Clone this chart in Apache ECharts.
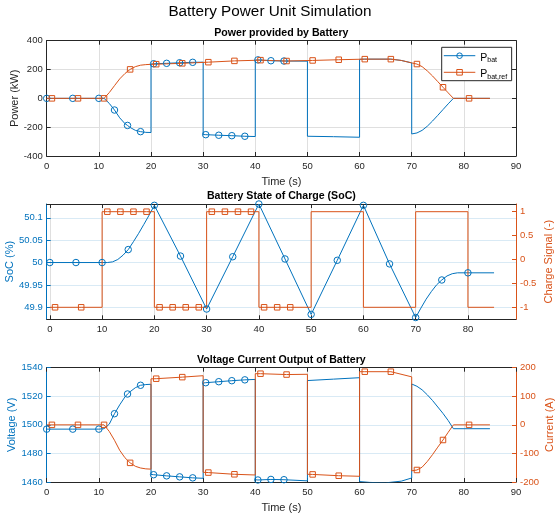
<!DOCTYPE html>
<html>
<head>
<meta charset="utf-8">
<script src="https://cdn.jsdelivr.net/npm/echarts@6/dist/echarts.min.js"></script>
<style>
  html, body { margin: 0; padding: 0; background: #fff; }
  #chart { width: 556px; height: 519px; }
</style>
</head>
<body>
<div id="chart"></div>
<script>
// ---- Power provided by battery (kW) ----
const pbatT = [0, 5, 10, 11, 12, 13, 14, 15, 15.5, 16, 17, 18, 19, 20, 20, 20.5, 23, 25.5, 28, 30, 30, 30.5, 33, 35.5, 38, 40, 40, 40.5, 43, 45.5, 50, 50, 55, 60, 60, 61, 66, 68, 70, 70, 71, 72, 73, 74, 75, 76, 77, 78, 81, 85];
const pbatV = [0, 0, 0, 0, -35, -81, -135, -175, -188, -202, -222, -231, -236, -237, 238, 240, 243, 247, 250, 251, -251, -252, -256, -259, -263, -265, 266, 267, 261, 259, 258, -263, -266, -270, 271, 272, 272, 263, 246, -247, -240, -222, -193, -157, -118, -78, -38, 0, 0, 0];
const pbatMarks = [0, 5, 10, 13, 15.5, 18, 20.5, 23, 25.5, 28, 30.5, 33, 35.5, 38, 40.5, 43, 45.5];

const prefT = [0, 1, 6, 11, 12, 13, 14, 15, 16, 17, 18, 19, 20, 21, 26, 31, 36, 41, 46, 51, 56, 61, 66, 68, 70, 71, 72, 73, 74, 75, 76, 77, 78, 81, 85];
const prefV = [0, 0, 0, 0, 40, 88, 135, 172, 201, 220, 230, 234, 236, 237, 243, 251, 260, 265, 259, 263, 268, 272, 272, 263, 246, 238, 220, 190, 155, 116, 77, 38, 0, 0, 0];
const prefMarks = [1, 6, 11, 16, 21, 26, 31, 36, 41, 46, 51, 56, 61, 66, 71, 76, 81];

// ---- State of charge (%) and charge signal (-) ----
const socT = [0, 5, 10, 11, 12, 13, 14, 15, 16, 17, 18, 19, 20, 25, 30, 35, 40, 45, 50, 55, 60, 65, 70, 71, 72, 73, 74, 75, 76, 77, 78, 80, 85];
const socV = [50, 50, 50, 50, 50.0015, 50.0068, 50.0164, 50.029, 50.0467, 50.0654, 50.0855, 50.1061, 50.128, 50.0145, 49.896, 50.013, 50.131, 50.008, 49.884, 50.005, 50.128, 49.997, 49.877, 49.898, 49.918, 49.935, 49.950, 49.961, 49.970, 49.975, 49.977, 49.977, 49.977];
const socMarks = [0, 5, 10, 15, 20, 25, 30, 35, 40, 45, 50, 55, 60, 65, 70, 75, 80];

const csT = [0, 1, 6, 10, 10, 11, 13.5, 16, 18.5, 20, 20, 21, 23.5, 26, 28.5, 30, 30, 31, 33.5, 36, 38.5, 40, 40, 41, 43.5, 46, 50, 50, 60, 60, 70, 70, 80, 80, 85];
const csV = [-1, -1, -1, -1, 1, 1, 1, 1, 1, 1, -1, -1, -1, -1, -1, -1, 1, 1, 1, 1, 1, 1, -1, -1, -1, -1, -1, 1, 1, -1, -1, 1, 1, -1, -1];
const csMarks = [1, 6, 11, 13.5, 16, 18.5, 21, 23.5, 26, 28.5, 31, 33.5, 36, 38.5, 41, 43.5, 46];

// ---- Voltage (V) and current (A) ----
const voltT = [0, 5, 10, 11, 12, 13, 14, 15, 15.5, 16, 17, 18, 19, 20, 20, 20.5, 23, 25.5, 28, 30, 30, 30.5, 33, 35.5, 38, 40, 40, 40.5, 43, 45.5, 50, 50, 55, 60, 60, 62, 65, 68, 70, 70, 71, 72, 73, 74, 75, 76, 77, 78, 81, 85];
const voltV = [1497, 1497, 1497, 1497.3, 1500.5, 1507.8, 1514, 1519.5, 1521.6, 1523.2, 1526, 1527.7, 1528.2, 1528.4, 1465.3, 1465.1, 1464.3, 1463.6, 1462.9, 1462.6, 1529.3, 1529.5, 1530.2, 1530.9, 1531.5, 1531.8, 1461.6, 1461.4, 1461.8, 1461.6, 1460.8, 1531, 1532, 1533, 1460.3, 1459.7, 1459.4, 1460.6, 1462.8, 1528.6, 1527, 1524.5, 1521, 1517, 1512.5, 1508, 1503, 1497.3, 1497.3, 1497.3];
const voltMarks = [0, 5, 10, 13, 15.5, 18, 20.5, 23, 25.5, 28, 30.5, 33, 35.5, 38, 40.5, 43, 45.5];

const currT = [0, 1, 6, 11, 12, 13, 14, 15, 16, 17, 18, 19, 20, 20, 21, 26, 30, 30, 31, 36, 40, 40, 41, 46, 50, 50, 51, 56, 60, 60, 61, 66, 70, 70, 71, 72, 73, 74, 75, 76, 77, 78, 81, 85];
const currV = [0, 0, 0, 0, -23, -54, -89, -115, -133, -145, -151, -154, -155, 161, 161.5, 167, 172, -166, -167, -173, -175.5, 179, 179, 176, 177, -173, -173.5, -178, -180, 186, 186, 186, 168, -161, -158, -148, -128, -104, -78, -53, -26, 0, 0, 0];
const currMarks = [1, 6, 11, 16, 21, 26, 31, 36, 41, 46, 51, 56, 61, 66, 71, 76, 81];

// ---- Axis ticks ----
const timeTicks = [0, 10, 20, 30, 40, 50, 60, 70, 80];
const socTicks = [49.9, 49.95, 50, 50.05, 50.1];
const csTicks = [-1, -0.5, 0, 0.5, 1];

const BLUE = '#0072BD';
const ORANGE = '#D95319';
const INK = '#262626';
const GRID_GRAY = '#dfdfdf';
const GRID_BLUE = '#d9eaf5';
const FONT = '"Liberation Sans", Arial, Helvetica, sans-serif';

// Build line data; only the listed times carry a marker.
function buildData(ts, vs, marks, symbol) {
  const used = new Set();
  return ts.map((t, i) => {
    const hasMark = marks.includes(t) && !used.has(t);
    if (hasMark) used.add(t);
    return { value: [t, vs[i]], symbol: hasMark ? symbol : 'none' };
  });
}

function lineSeries(name, ts, vs, marks, symbol, size, color, xi, yi) {
  return {
    name, type: 'line', xAxisIndex: xi, yAxisIndex: yi,
    data: buildData(ts, vs, marks, symbol),
    symbol, symbolSize: size, showSymbol: true, showAllSymbol: true,
    color,
    lineStyle: { color, width: 1 },
    itemStyle: { color: 'rgba(255,255,255,0)', borderColor: color, borderWidth: 1 },
    clip: true, animation: false, silent: true,
    emphasis: { disabled: true }
  };
}

const fmt = (v) => String(+(+v).toFixed(2));
const tickText = { fontFamily: FONT, fontSize: 9.5, color: INK };
const nameText = (c) => ({ fontFamily: FONT, fontSize: 11, color: c });

function timeAxis(grid, position, opts) {
  const bottom = position === 'bottom';
  const ax = {
    type: 'value', gridIndex: grid, position,
    min: opts.min, max: opts.max,
    axisLine: { show: true, onZero: false, lineStyle: { color: INK, width: 1 } },
    axisTick: { show: true, inside: true, length: 4, lineStyle: { color: INK, width: 1 } },
    axisLabel: Object.assign({ show: bottom, margin: 5, formatter: fmt }, tickText),
    splitLine: { show: bottom && !!opts.grid, lineStyle: { color: GRID_GRAY, width: 1 } }
  };
  if (opts.custom) {
    ax.axisTick.customValues = timeTicks;
    ax.axisLabel.customValues = timeTicks;
  } else {
    ax.interval = 10;
  }
  if (bottom && opts.name) {
    ax.name = opts.name;
    ax.nameLocation = 'middle';
    ax.nameGap = 20;
    ax.nameMoveOverlap = false;
    ax.nameTextStyle = nameText(INK);
  }
  return ax;
}

function valueAxis(grid, position, color, opts) {
  const ax = {
    type: 'value', gridIndex: grid, position,
    min: opts.min, max: opts.max,
    axisLine: { show: true, onZero: false, lineStyle: { color, width: 1 } },
    axisTick: { show: true, inside: true, length: 4, lineStyle: { color, width: 1 } },
    axisLabel: Object.assign({ show: opts.labels !== false, margin: 4, formatter: fmt }, tickText, { color }),
    splitLine: { show: !!opts.gridColor, lineStyle: { color: opts.gridColor || GRID_GRAY, width: 1 } }
  };
  if (opts.custom) {
    ax.axisTick.customValues = opts.custom;
    ax.axisLabel.customValues = opts.custom;
  } else {
    ax.interval = opts.interval;
  }
  if (opts.name) {
    ax.name = opts.name;
    ax.nameLocation = 'middle';
    ax.nameRotate = 90;
    ax.nameGap = opts.nameGap;
    ax.nameMoveOverlap = false;
    ax.nameTextStyle = nameText(color);
  }
  return ax;
}

const L = 46.7, W = 469.3;
const gridBase = { left: L, width: W, containLabel: false, outerBoundsMode: 'none' };

const option = {
  animation: false,
  backgroundColor: '#fff',
  grid: [
    Object.assign({ top: 40.7, height: 115.3 }, gridBase),
    Object.assign({ top: 204, height: 115.3 }, gridBase),
    Object.assign({ top: 367.7, height: 114.3 }, gridBase)
  ],
  xAxis: [
    timeAxis(0, 'bottom', { min: 0, max: 90, grid: true, name: 'Time (s)' }),
    timeAxis(0, 'top', { min: 0, max: 90 }),
    timeAxis(1, 'bottom', { min: -0.6, max: 89.2, grid: true, custom: true }),
    timeAxis(1, 'top', { min: -0.6, max: 89.2, custom: true }),
    timeAxis(2, 'bottom', { min: 0, max: 90, grid: true, name: 'Time (s)' }),
    timeAxis(2, 'top', { min: 0, max: 90 })
  ],
  yAxis: [
    valueAxis(0, 'left', INK, { min: -400, max: 400, interval: 200, gridColor: GRID_GRAY, name: 'Power (kW)', nameGap: 26 }),
    valueAxis(0, 'right', INK, { min: -400, max: 400, interval: 200, labels: false }),
    valueAxis(1, 'left', BLUE, { min: 49.873, max: 50.131, custom: socTicks, gridColor: GRID_BLUE, name: 'SoC (%)', nameGap: 31 }),
    valueAxis(1, 'right', ORANGE, { min: -1.251, max: 1.161, custom: csTicks, name: 'Charge Signal (-)', nameGap: 27 }),
    valueAxis(2, 'left', BLUE, { min: 1460, max: 1540, interval: 20, gridColor: GRID_BLUE, name: 'Voltage (V)', nameGap: 29 }),
    valueAxis(2, 'right', ORANGE, { min: -200, max: 200, interval: 100, name: 'Current (A)', nameGap: 28 })
  ],
  legend: {
    data: ['Pbat', 'Pbat,ref'],
    orient: 'vertical',
    left: 441.7, top: 47.3,
    itemWidth: 31.5, itemHeight: 7, itemGap: 0.6,
    padding: [0.4, 4.5, 0.4, 1.6],
    borderColor: INK, borderWidth: 1, borderRadius: 0,
    backgroundColor: '#fff',
    selectedMode: false,
    itemStyle: { color: 'rgba(255,255,255,0)', borderWidth: 1 },
    lineStyle: { width: 1 },
    formatter: (name) => name === 'Pbat' ? '{m|P}{s|bat}' : '{m|P}{s|bat,ref}',
    textStyle: {
      rich: {
        m: { fontFamily: FONT, fontSize: 10.5, lineHeight: 12, color: '#000', padding: [4, 0, 0, 0] },
        s: { fontFamily: FONT, fontSize: 7, lineHeight: 7, color: '#000', padding: [9, 0, 0, 0] }
      }
    }
  },
  graphic: [
    { type: 'text', x: 270, y: 11.7, silent: true,
      style: { text: 'Battery Power Unit Simulation', fontFamily: FONT, fontSize: 15.3, fill: '#000', align: 'center', verticalAlign: 'middle' } },
    { type: 'text', x: L + W / 2, y: 33.5, silent: true,
      style: { text: 'Power provided by Battery', fontFamily: FONT, fontSize: 10.6, fontWeight: 'bold', fill: '#000', align: 'center', verticalAlign: 'middle' } },
    { type: 'text', x: L + W / 2, y: 196.5, silent: true,
      style: { text: 'Battery State of Charge (SoC)', fontFamily: FONT, fontSize: 10.6, fontWeight: 'bold', fill: '#000', align: 'center', verticalAlign: 'middle' } },
    { type: 'text', x: L + W / 2, y: 360.3, silent: true,
      style: { text: 'Voltage Current Output of Battery', fontFamily: FONT, fontSize: 10.6, fontWeight: 'bold', fill: '#000', align: 'center', verticalAlign: 'middle' } }
  ],
  series: [
    lineSeries('Pbat', pbatT, pbatV, pbatMarks, 'circle', 6.5, BLUE, 0, 0),
    lineSeries('Pbat,ref', prefT, prefV, prefMarks, 'rect', 5.5, ORANGE, 0, 0),
    lineSeries('SoC', socT, socV, socMarks, 'circle', 6.5, BLUE, 2, 2),
    lineSeries('Charge Signal', csT, csV, csMarks, 'rect', 5.5, ORANGE, 2, 3),
    lineSeries('Voltage', voltT, voltV, voltMarks, 'circle', 6.5, BLUE, 4, 4),
    lineSeries('Current', currT, currV, currMarks, 'rect', 5.5, ORANGE, 4, 5)
  ]
};

const chart = echarts.init(document.getElementById('chart'), null, { renderer: 'canvas' });
chart.setOption(option);
</script>
</body>
</html>
